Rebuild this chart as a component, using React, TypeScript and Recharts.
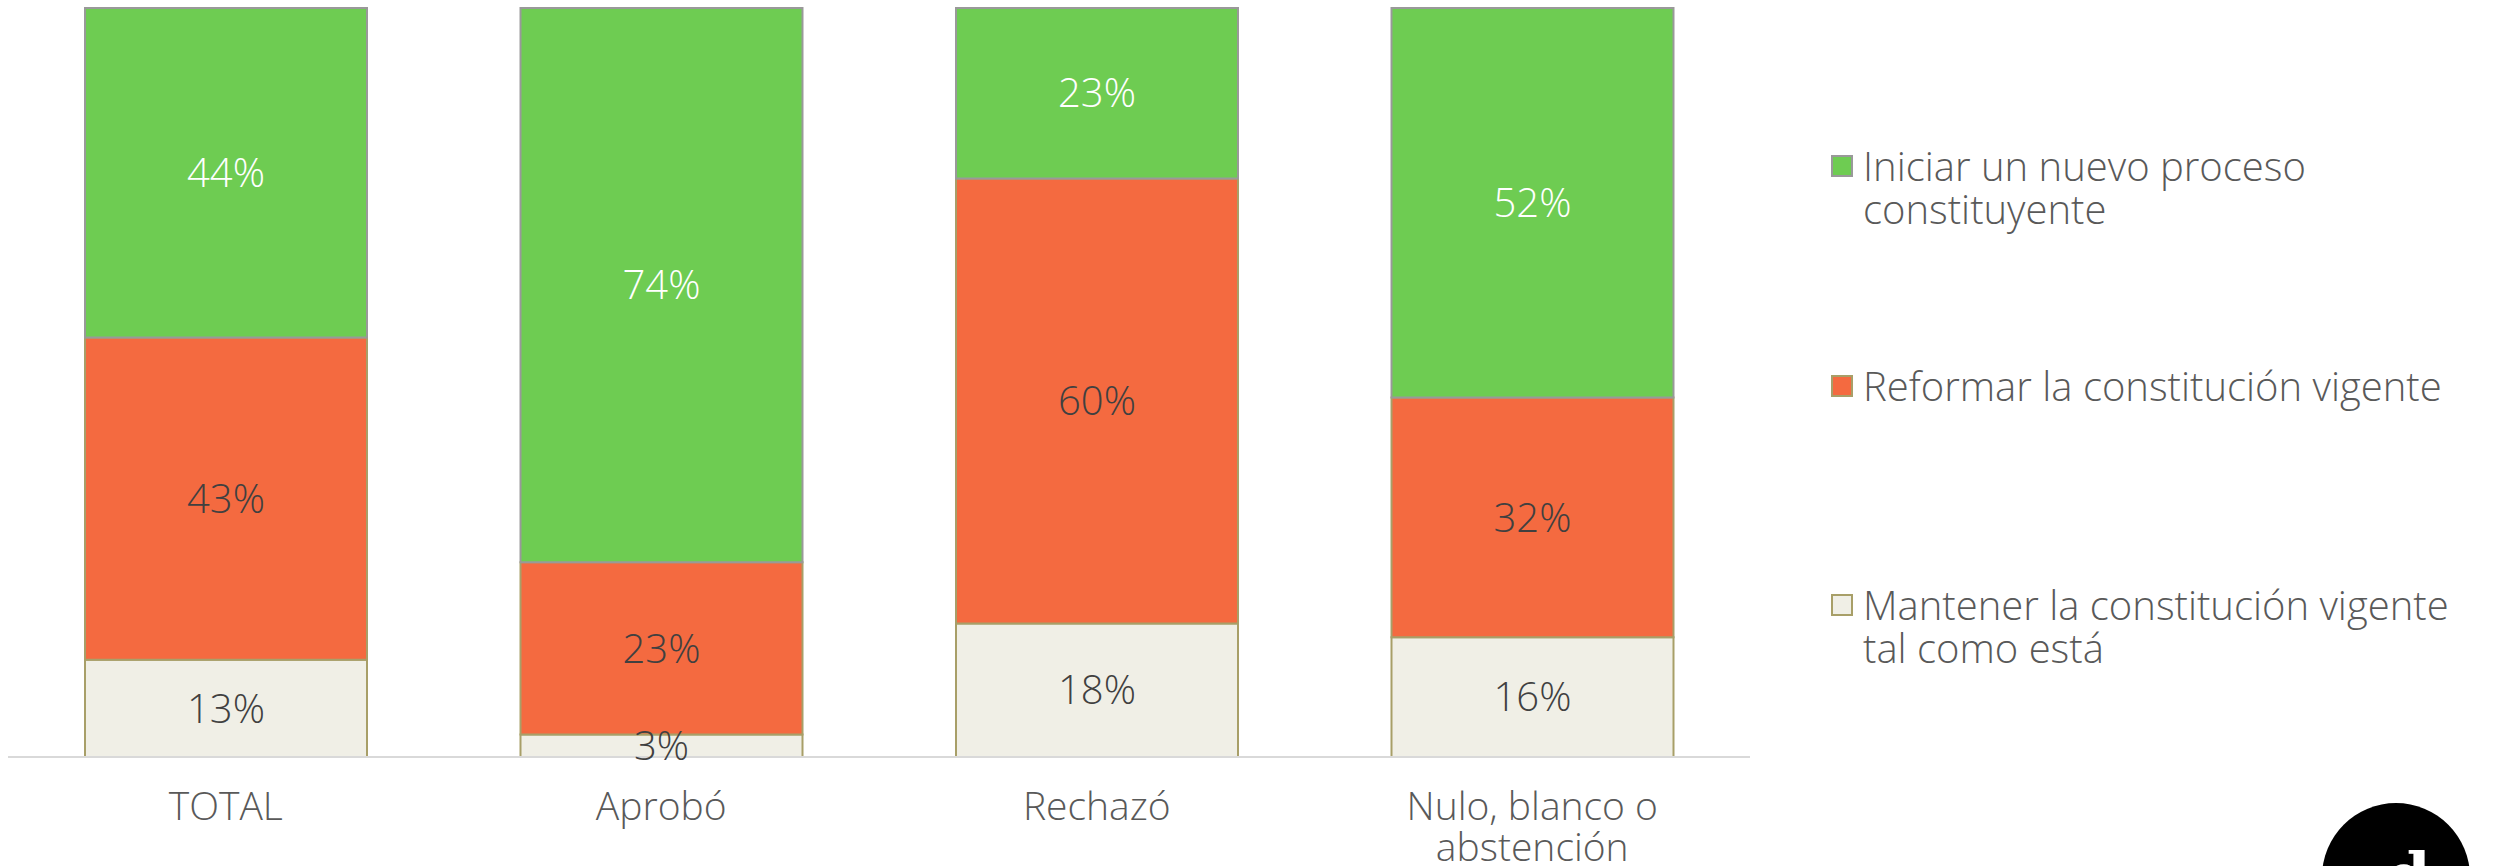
import React from 'react'
import { BarChart, Bar, XAxis, YAxis, LabelList } from 'recharts'

const categories = ['TOTAL', 'Aprobó', 'Rechazó', 'Nulo, blanco o\nabstención']
const mantener = [13, 3, 18, 16]
const reformar = [43, 23, 60, 32]
const iniciar = [44, 74, 23, 52]

const seriesNames = [
  'Iniciar un nuevo proceso\nconstituyente',
  'Reformar la constitución vigente',
  'Mantener la constitución vigente\ntal como está',
]

const GREEN = '#6ECC52'
const ORANGE = '#F46A40'
const BEIGE = '#F0EFE6'
const OLIVE = '#A89F68'
const FONT = '"Open Sans", sans-serif'

const data = categories.map((name, i) => ({
  name,
  mantener: mantener[i],
  reformar: reformar[i],
  iniciar: iniciar[i],
}))

// first-line centre of each legend entry
const legendItems = [
  { name: seriesNames[0], fill: GREEN, stroke: '#999999', top: 165 },
  { name: seriesNames[1], fill: ORANGE, stroke: OLIVE, top: 385 },
  { name: seriesNames[2], fill: BEIGE, stroke: OLIVE, top: 604 },
]

const CategoryTick = (props: any) => {
  const { x, y, payload } = props
  const lines = String(payload.value).split('\n')
  return (
    <text x={x} y={y} textAnchor="middle" fill="#595959" fontSize={39} fontWeight={300} fontFamily={FONT}>
      {lines.map((l, i) => (
        <tspan key={i} x={x} dy={i === 0 ? 55 : 41}>{l}</tspan>
      ))}
    </text>
  )
}

const pct = (v: any) => `${v}%`

export default function App() {
  return (
    <div style={{ position: 'absolute', left: 0, top: 0, width: 2494, height: 866, background: '#fff', overflow: 'hidden' }}>
      <BarChart
        width={1750}
        height={866}
        data={data}
        stackOffset="expand"
        margin={{ top: 8, right: 0, left: 8, bottom: 0 }}
      >
        <XAxis
          dataKey="name"
          height={109}
          interval={0}
          tickLine={false}
          axisLine={{ stroke: '#d9d9d9', strokeWidth: 2 }}
          tick={<CategoryTick />}
        />
        <YAxis hide domain={[0, 1]} />
        <Bar dataKey="mantener" stackId="a" fill={BEIGE} stroke={OLIVE} strokeWidth={2} barSize={282} isAnimationActive={false}>
          <LabelList dataKey="mantener" position="center" formatter={pct} fill="#404040" fontSize={40} fontWeight={300} fontFamily={FONT} />
        </Bar>
        <Bar dataKey="reformar" stackId="a" fill={ORANGE} stroke={OLIVE} strokeWidth={2} barSize={282} isAnimationActive={false}>
          <LabelList dataKey="reformar" position="center" formatter={pct} fill="#404040" fontSize={40} fontWeight={300} fontFamily={FONT} />
        </Bar>
        <Bar dataKey="iniciar" stackId="a" fill={GREEN} stroke="#999999" strokeWidth={2} barSize={282} isAnimationActive={false}>
          <LabelList dataKey="iniciar" position="center" formatter={pct} fill="#ffffff" fontSize={40} fontWeight={300} fontFamily={FONT} />
        </Bar>
      </BarChart>

      {legendItems.map((it, i) => (
        <div
          key={i}
          style={{ position: 'absolute', left: 1831, top: it.top - 21.5, display: 'flex', alignItems: 'flex-start', fontFamily: FONT, fontWeight: 300, fontSize: 40, color: '#595959' }}
        >
          <div style={{ width: 18, height: 18, marginTop: 11, marginRight: 10, background: it.fill, border: `2px solid ${it.stroke}`, flexShrink: 0 }} />
          <div style={{ whiteSpace: 'pre', lineHeight: '43px' }}>{it.name}</div>
        </div>
      ))}

      <svg style={{ position: 'absolute', left: 2300, top: 780 }} width={194} height={86}>
        <circle cx={96} cy={97} r={74} fill="#000" />
        <text x={86} y={118} fill="#fff" fontSize={64} fontWeight="bold" fontFamily='"DejaVu Serif", serif'>d</text>
      </svg>
    </div>
  )
}
